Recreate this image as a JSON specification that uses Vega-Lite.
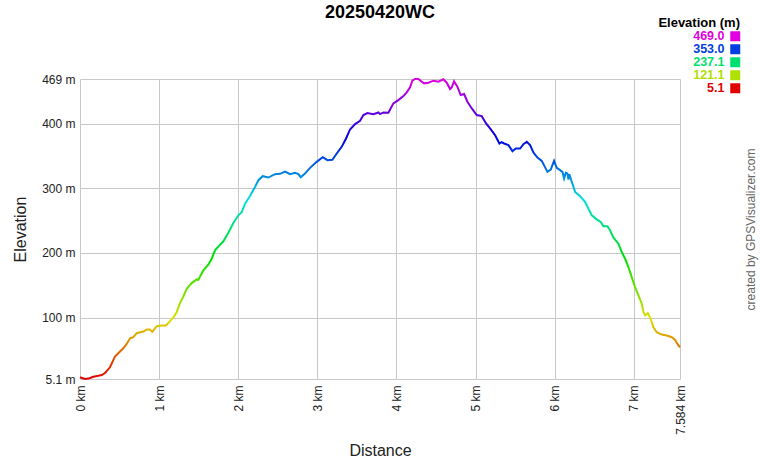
{
  "$schema": "https://vega.github.io/schema/vega-lite/v6.json",
  "width": 600,
  "height": 300,
  "autosize": {"type": "none"},
  "padding": {"left": 80, "top": 79, "right": 80, "bottom": 81},
  "background": "white",
  "config": {
    "view": {"stroke": null},
    "font": "Liberation Sans"
  },
  "title": {
    "text": "20250420WC",
    "font": "Liberation Sans",
    "fontSize": 18,
    "fontWeight": "bold",
    "color": "#000000",
    "anchor": "middle",
    "frame": "group",
    "baseline": "alphabetic",
    "offset": -19
  },
  "data": {
    "values": [
      {"d": 0.000, "e": 7.9},
      {"d": 0.063, "e": 5.1},
      {"d": 0.120, "e": 6.3},
      {"d": 0.169, "e": 8.6},
      {"d": 0.230, "e": 10.0},
      {"d": 0.274, "e": 11.3},
      {"d": 0.316, "e": 14.4},
      {"d": 0.379, "e": 23.2},
      {"d": 0.442, "e": 39.7},
      {"d": 0.506, "e": 47.5},
      {"d": 0.550, "e": 53.0},
      {"d": 0.590, "e": 59.3},
      {"d": 0.632, "e": 68.1},
      {"d": 0.674, "e": 69.7},
      {"d": 0.716, "e": 75.9},
      {"d": 0.760, "e": 77.5},
      {"d": 0.801, "e": 78.5},
      {"d": 0.843, "e": 81.6},
      {"d": 0.885, "e": 81.6},
      {"d": 0.914, "e": 78.0},
      {"d": 0.969, "e": 86.7},
      {"d": 1.032, "e": 87.8},
      {"d": 1.087, "e": 87.8},
      {"d": 1.138, "e": 94.5},
      {"d": 1.180, "e": 100.5},
      {"d": 1.222, "e": 108.4},
      {"d": 1.264, "e": 122.4},
      {"d": 1.306, "e": 132.7},
      {"d": 1.349, "e": 144.6},
      {"d": 1.412, "e": 153.4},
      {"d": 1.475, "e": 159.1},
      {"d": 1.496, "e": 158.5},
      {"d": 1.559, "e": 173.0},
      {"d": 1.622, "e": 181.8},
      {"d": 1.665, "e": 191.1},
      {"d": 1.707, "e": 204.0},
      {"d": 1.770, "e": 212.8},
      {"d": 1.812, "e": 218.0},
      {"d": 1.875, "e": 231.4},
      {"d": 1.938, "e": 246.4},
      {"d": 2.002, "e": 258.2},
      {"d": 2.044, "e": 262.9},
      {"d": 2.086, "e": 276.3},
      {"d": 2.149, "e": 288.2},
      {"d": 2.212, "e": 302.1},
      {"d": 2.255, "e": 312.5},
      {"d": 2.309, "e": 318.7},
      {"d": 2.381, "e": 316.6},
      {"d": 2.465, "e": 321.8},
      {"d": 2.528, "e": 322.3},
      {"d": 2.592, "e": 325.9},
      {"d": 2.655, "e": 321.8},
      {"d": 2.718, "e": 323.9},
      {"d": 2.760, "e": 321.8},
      {"d": 2.790, "e": 317.1},
      {"d": 2.844, "e": 322.8},
      {"d": 2.908, "e": 331.6},
      {"d": 2.992, "e": 340.9},
      {"d": 3.068, "e": 348.1},
      {"d": 3.127, "e": 343.5},
      {"d": 3.190, "e": 344.0},
      {"d": 3.245, "e": 353.8},
      {"d": 3.308, "e": 364.1},
      {"d": 3.363, "e": 377.0},
      {"d": 3.413, "e": 391.0},
      {"d": 3.477, "e": 399.3},
      {"d": 3.540, "e": 404.4},
      {"d": 3.582, "e": 413.2},
      {"d": 3.633, "e": 416.3},
      {"d": 3.708, "e": 414.7},
      {"d": 3.772, "e": 417.3},
      {"d": 3.793, "e": 414.7},
      {"d": 3.835, "e": 417.3},
      {"d": 3.898, "e": 416.8},
      {"d": 3.961, "e": 431.3},
      {"d": 4.024, "e": 436.4},
      {"d": 4.088, "e": 442.6},
      {"d": 4.130, "e": 448.3},
      {"d": 4.172, "e": 456.1},
      {"d": 4.201, "e": 466.4},
      {"d": 4.235, "e": 469.0},
      {"d": 4.277, "e": 469.0},
      {"d": 4.319, "e": 464.9},
      {"d": 4.349, "e": 462.3},
      {"d": 4.404, "e": 463.3},
      {"d": 4.467, "e": 466.4},
      {"d": 4.530, "e": 464.9},
      {"d": 4.593, "e": 468.5},
      {"d": 4.635, "e": 463.3},
      {"d": 4.678, "e": 453.5},
      {"d": 4.699, "e": 456.1},
      {"d": 4.728, "e": 465.4},
      {"d": 4.770, "e": 457.1},
      {"d": 4.812, "e": 444.2},
      {"d": 4.855, "e": 445.7},
      {"d": 4.897, "e": 433.9},
      {"d": 4.952, "e": 423.5},
      {"d": 5.015, "e": 413.2},
      {"d": 5.078, "e": 411.6},
      {"d": 5.133, "e": 400.3},
      {"d": 5.183, "e": 392.5},
      {"d": 5.246, "e": 382.2},
      {"d": 5.301, "e": 369.3},
      {"d": 5.330, "e": 371.5},
      {"d": 5.360, "e": 369.3},
      {"d": 5.415, "e": 366.7},
      {"d": 5.466, "e": 357.4},
      {"d": 5.508, "e": 361.5},
      {"d": 5.563, "e": 361.5},
      {"d": 5.605, "e": 368.3},
      {"d": 5.647, "e": 371.9},
      {"d": 5.689, "e": 366.7},
      {"d": 5.731, "e": 355.4},
      {"d": 5.782, "e": 347.6},
      {"d": 5.837, "e": 342.4},
      {"d": 5.908, "e": 325.4},
      {"d": 5.950, "e": 329.0},
      {"d": 5.992, "e": 342.4},
      {"d": 6.026, "e": 331.6},
      {"d": 6.068, "e": 328.0},
      {"d": 6.098, "e": 325.4},
      {"d": 6.119, "e": 315.0},
      {"d": 6.140, "e": 323.9},
      {"d": 6.161, "e": 322.8},
      {"d": 6.174, "e": 313.5},
      {"d": 6.186, "e": 321.8},
      {"d": 6.216, "e": 310.0},
      {"d": 6.258, "e": 294.4},
      {"d": 6.321, "e": 287.7},
      {"d": 6.384, "e": 278.9},
      {"d": 6.426, "e": 268.6},
      {"d": 6.469, "e": 258.2},
      {"d": 6.532, "e": 252.0},
      {"d": 6.582, "e": 247.9},
      {"d": 6.616, "e": 241.2},
      {"d": 6.667, "e": 241.2},
      {"d": 6.700, "e": 235.0},
      {"d": 6.743, "e": 223.6},
      {"d": 6.806, "e": 214.3},
      {"d": 6.848, "e": 201.4},
      {"d": 6.890, "e": 191.1},
      {"d": 6.932, "e": 178.2},
      {"d": 6.974, "e": 162.7},
      {"d": 7.016, "e": 147.2},
      {"d": 7.059, "e": 134.3},
      {"d": 7.101, "e": 121.3},
      {"d": 7.122, "e": 108.4},
      {"d": 7.143, "e": 103.3},
      {"d": 7.177, "e": 106.9},
      {"d": 7.214, "e": 98.1},
      {"d": 7.248, "e": 85.2},
      {"d": 7.290, "e": 77.4},
      {"d": 7.354, "e": 73.8},
      {"d": 7.417, "e": 72.3},
      {"d": 7.480, "e": 69.7},
      {"d": 7.522, "e": 65.5},
      {"d": 7.552, "e": 59.3},
      {"d": 7.584, "e": 54.0}
    ]
  },
  "layer": [
    {
      "mark": {
        "type": "line",
        "strokeWidth": 2,
        "interpolate": "linear",
        "stroke": {
          "gradient": "linear",
          "x1": 0, "y1": 1, "x2": 0, "y2": 0,
          "stops": [
            {"offset": 0.00, "color": "#e00000"},
            {"offset": 0.05, "color": "#e03800"},
            {"offset": 0.10, "color": "#e07000"},
            {"offset": 0.15, "color": "#e0a800"},
            {"offset": 0.20, "color": "#e0e000"},
            {"offset": 0.25, "color": "#a8e000"},
            {"offset": 0.30, "color": "#70e000"},
            {"offset": 0.35, "color": "#38e000"},
            {"offset": 0.40, "color": "#00e000"},
            {"offset": 0.45, "color": "#00e038"},
            {"offset": 0.50, "color": "#00e070"},
            {"offset": 0.55, "color": "#00e0a8"},
            {"offset": 0.60, "color": "#00e0e0"},
            {"offset": 0.65, "color": "#00a8e0"},
            {"offset": 0.70, "color": "#0070e0"},
            {"offset": 0.75, "color": "#0038e0"},
            {"offset": 0.80, "color": "#0000e0"},
            {"offset": 0.85, "color": "#3800e0"},
            {"offset": 0.90, "color": "#7000e0"},
            {"offset": 0.95, "color": "#a800e0"},
            {"offset": 1.00, "color": "#e000e0"}
          ]
        }
      },
      "encoding": {
        "x": {
          "field": "d",
          "type": "quantitative",
          "scale": {"domain": [0, 7.584], "nice": false, "zero": false},
          "axis": {
            "title": "Distance",
            "values": [0, 1, 2, 3, 4, 5, 6, 7, 7.584],
            "labelExpr": "datum.value + ' km'",
            "labelAngle": 270,
            "labelAlign": "right",
            "labelBaseline": "middle",
            "labelFlush": false,
            "labelOverlap": false,
            "labelPadding": 6,
            "labelFontSize": 12,
            "labelColor": "#222222",
            "labelFont": "Liberation Sans",
            "ticks": false,
            "domain": false,
            "grid": true,
            "gridColor": "#c8c8c8",
            "gridWidth": 1,
            "titleFontSize": 16,
            "titleFontWeight": "normal",
            "titleColor": "#222222",
            "titleFont": "Liberation Sans",
            "titlePadding": 8
          }
        },
        "y": {
          "field": "e",
          "type": "quantitative",
          "scale": {"domain": [5.1, 469], "nice": false, "zero": false},
          "axis": {
            "orient": "left",
            "title": "Elevation",
            "values": [5.1, 100, 200, 300, 400, 469],
            "labelExpr": "datum.value + ' m'",
            "labelFlush": false,
            "labelOverlap": false,
            "labelPadding": 5,
            "labelFontSize": 12,
            "labelColor": "#222222",
            "labelFont": "Liberation Sans",
            "ticks": false,
            "domain": false,
            "grid": true,
            "gridColor": "#c8c8c8",
            "gridWidth": 1,
            "titleFontSize": 16,
            "titleFontWeight": "normal",
            "titleColor": "#222222",
            "titleFont": "Liberation Sans",
            "titlePadding": 13
          }
        }
      }
    },
    {
      "mark": {"type": "square", "opacity": 0, "size": 1},
      "encoding": {
        "x": {"field": "d", "type": "quantitative"},
        "y": {
          "field": "e",
          "type": "quantitative",
          "axis": {
            "orient": "right",
            "title": "created by GPSVisualizer.com",
            "labels": false,
            "ticks": false,
            "domain": false,
            "grid": false,
            "titleAngle": 270,
            "titleFontSize": 12,
            "titleFontWeight": "normal",
            "titleColor": "#666666",
            "titleFont": "Liberation Sans",
            "titlePadding": 77
          }
        },
        "color": {
          "field": "e",
          "type": "quantitative",
          "scale": {
            "domain": [5.1, 121.1, 237.1, 353, 469],
            "range": ["#e00000", "#b0e000", "#00e070", "#0040e0", "#e000e0"],
            "interpolate": "hsl"
          },
          "legend": {
            "type": "symbol",
            "values": [469, 353, 237.1, 121.1, 5.1],
            "format": ".1f",
            "title": "Elevation (m)",
            "orient": "none",
            "legendX": 578,
            "legendY": -62,
            "symbolType": "square",
            "symbolSize": 100,
            "symbolOpacity": 1,
            "symbolStrokeWidth": 0,
            "labelAlign": "right",
            "labelOffset": -17,
            "labelFontSize": 12.5,
            "labelFontWeight": "bold",
            "labelFont": "Liberation Sans",
            "labelColor": {"expr": "scale('color', datum.value)"},
            "titleFontSize": 13,
            "titleFontWeight": "bold",
            "titleFont": "Liberation Sans",
            "titleColor": "#000000",
            "titleAnchor": "end",
            "titleAlign": "right",
            "titlePadding": 0,
            "rowPadding": 0,
            "padding": 0
          }
        }
      }
    }
  ],
  "resolve": {"axis": {"y": "independent"}}
}
